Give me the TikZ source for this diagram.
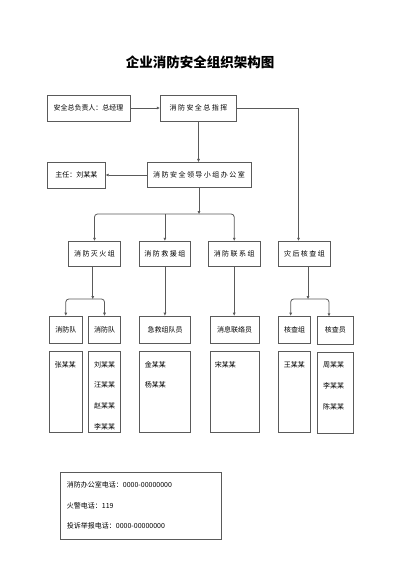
\documentclass[tikz,border=0pt]{standalone}
\usepackage{fontspec}
\setmainfont{Noto Sans CJK SC}
\newfontfamily\spaced[LetterSpace=21]{Noto Sans CJK SC}
\usetikzlibrary{arrows.meta,calc}
\definecolor{linegray}{HTML}{5A5A5A}
\tikzset{
    box/.style={draw=linegray, line width=0.8pt, inner sep=0pt, font=\fontsize{7}{8}\selectfont},
    widebox/.style={box, font=\fontsize{7}{8}\selectfont\spaced},
    groupbox/.style={widebox, minimum width=51.7pt, minimum height=25.7pt},
    subbox/.style={box, minimum height=27.3pt},
    listbox/.style={box, minimum height=80.6pt},
    member/.style={anchor=west, inner sep=0pt, font=\fontsize{7}{8}\selectfont},
    arr/.style={draw=linegray, line width=0.8pt, -{Triangle[length=3pt,width=2.6pt]}},
}

\begin{document}
\begin{tikzpicture}[x=1pt, y=-1pt]
    \fill[white] (0,0) rectangle (400,566);
    \useasboundingbox (0,0) rectangle (400,566);

    \node[font=\fontsize{13.5}{15}\selectfont\bfseries] (title) at (200,62.3) {企业消防安全组织架构图};

    \node[box, minimum width=83pt, minimum height=26pt] (boss) at (88.5,108) {安全总负责人：总经理};
    \node[widebox, minimum width=76.7pt, minimum height=26pt] (chief) at (198.5,108) {消防安全总指挥};
    \node[widebox, minimum width=104pt, minimum height=25.4pt] (office) at (199,175) {消防安全领导小组办公室};
    \node[box, minimum width=58pt, minimum height=26pt] (director) at (76.3,175) {主任：刘某某};

    \node[groupbox] (fire) at (94.5,254) {消防灭火组};
    \node[groupbox] (rescue) at (164.9,254) {消防救援组};
    \node[groupbox] (link) at (234.2,254) {消防联系组};
    \node[groupbox] (check) at (304.5,254) {灾后核查组};

    \node[subbox, minimum width=33pt] (team1) at (65.8,329.7) {消防队};
    \node[subbox, minimum width=32.4pt] (team2) at (104.5,329.7) {消防队};
    \node[subbox, minimum width=51.4pt] (aid) at (165,329.7) {急救组队员};
    \node[subbox, minimum width=49.3pt] (liaison) at (234.7,329.7) {消息联络员};
    \node[subbox, minimum width=32.4pt] (inspect1) at (294.5,329.7) {核查组};
    \node[subbox, minimum width=36pt] (inspect2) at (335.3,330.3) {核查员};

    \node[listbox, minimum width=33pt] (list1) at (65.8,392) {};
    \node[listbox, minimum width=32.4pt] (list2) at (104.5,392) {};
    \node[listbox, minimum width=51.4pt] (list3) at (165,392) {};
    \node[listbox, minimum width=49.3pt] (list4) at (234.7,392) {};
    \node[listbox, minimum width=32.4pt] (list5) at (294.5,392) {};
    \node[listbox, minimum width=36pt] (list6) at (335.3,392.7) {};

    \node[member] (zhang) at ($(list1.north west)+(5.7,13.3)$) {张某某};
    \node[member] (liu) at ($(list2.north west)+(6,13.3)$) {刘某某};
    \node[member] (wang2) at ($(list2.north west)+(6,34)$) {汪某某};
    \node[member] (zhao) at ($(list2.north west)+(6,55)$) {赵某某};
    \node[member] (li1) at ($(list2.north west)+(6,75.6)$) {李某某};
    \node[member] (jin) at ($(list3.north west)+(5.7,13.3)$) {金某某};
    \node[member] (yang) at ($(list3.north west)+(5.7,34)$) {杨某某};
    \node[member] (song) at ($(list4.north west)+(5,13.3)$) {宋某某};
    \node[member] (wang) at ($(list5.north west)+(5.7,13.3)$) {王某某};
    \node[member] (zhou) at ($(list6.north west)+(6,13.3)$) {周某某};
    \node[member] (li2) at ($(list6.north west)+(6,34)$) {李某某};
    \node[member] (chen) at ($(list6.north west)+(6,55)$) {陈某某};

    \node[box, minimum width=161pt, minimum height=66.3pt] (info) at (141.2,505.9) {};
    \node[member] (phone) at (66.7,485) {消防办公室电话：0000-00000000};
    \node[member] (alarm) at (66.7,505.7) {火警电话：119};
    \node[member] (report) at (66.7,525.7) {投诉举报电话：0000-00000000};

    \coordinate (split) at (199,214);
    \coordinate (firesplit) at (92.8,299);
    \coordinate (checksplit) at (308,299);

    \draw[arr] (boss) -- (chief);
    \draw[arr] (chief.south) -- (chief.south |- office.north);
    \draw[arr] (chief.east) -| ($(check.north)+(-6,0)$);
    \draw[arr] (office) -- (director);
    \draw[arr] (office.south) -- (split);
    \draw[arr, rounded corners=3pt] (split) -| (fire.north);
    \draw[arr, rounded corners=3pt] (split) -| (link.north);
    \draw[arr] (split -| rescue) -- (rescue.north);
    \draw[arr] (fire.south -| firesplit) -- (firesplit);
    \draw[arr, rounded corners=3pt] (firesplit) -| (team1.north);
    \draw[arr, rounded corners=3pt] (firesplit) -| (team2.north);
    \draw[arr] (rescue.south) -- (rescue.south |- aid.north);
    \draw[arr] (link.south) -- (link.south |- liaison.north);
    \draw[arr] (check.south -| checksplit) -- (checksplit);
    \draw[arr, rounded corners=3pt] (checksplit) -| ($(inspect1.north)+(-3.8,0)$);
    \draw[arr, rounded corners=3pt] (checksplit) -| ($(inspect2.north)+(-6.3,0)$);
\end{tikzpicture}
\end{document}
